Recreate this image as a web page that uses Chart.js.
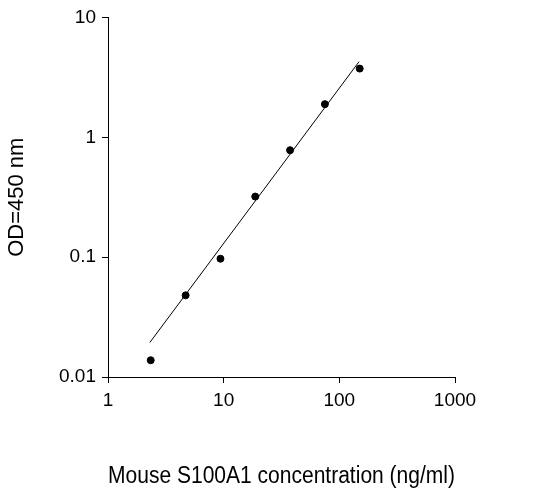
<!DOCTYPE html>
<html><head><script src="https://cdn.jsdelivr.net/npm/chart.js@4"></script>
<style>body{margin:0;background:#fff}#w{width:550px;height:494px}</style></head>
<body><div id="w"><canvas id="c"></canvas></div>
<script>
const conc=[2.34,4.69,9.38,18.75,37.5,75,150];
const od=[0.0138,0.048,0.097,0.32,0.78,1.89,3.74];
const fitX=[2.3,148];
const fitY=[0.0194,4.27];
const xTicks=[1,10,100,1000];
const yTicks=[0.01,0.1,1,10];
const F='Arial, "Liberation Sans", sans-serif';
new Chart(document.getElementById('c'),{
type:'scatter',
data:{datasets:[
{data:conc.map((x,i)=>({x,y:od[i]})),pointRadius:3.5,backgroundColor:'#000',borderColor:'#000'},
{data:fitX.map((x,i)=>({x,y:fitY[i]})),showLine:true,pointRadius:0,borderColor:'#000',borderWidth:1}
]},
options:{responsive:true,maintainAspectRatio:false,animation:false,
layout:{padding:{top:12,right:95,left:0,bottom:0}},
plugins:{legend:{display:false},tooltip:{enabled:false}},
scales:{
x:{type:'logarithmic',min:1,max:1000,
afterBuildTicks:s=>{s.ticks=xTicks.map(v=>({value:v}))},
afterFit:s=>{s.height=117},
grid:{display:true,drawOnChartArea:false,drawTicks:true,tickLength:6,tickColor:'#000'},
border:{color:'#000',width:1},
ticks:{color:'#000',font:{family:F,size:19},callback:v=>String(v),maxRotation:0,padding:6},
title:{display:true,text:'Mouse S100A1 concentration (ng/ml)',color:'#000',font:{family:F,size:23},padding:{top:22}}},
y:{type:'logarithmic',min:0.01,max:10,
afterBuildTicks:s=>{s.ticks=yTicks.map(v=>({value:v}))},
afterFit:s=>{s.width=108},
grid:{display:true,drawOnChartArea:false,drawTicks:true,tickLength:6,tickColor:'#000'},
border:{color:'#000',width:1},
ticks:{color:'#000',font:{family:F,size:19},callback:v=>String(v),padding:6},
title:{display:true,text:'OD=450 nm',color:'#000',font:{family:F,size:22},padding:{bottom:10}}}
}}});
</script></body></html>
